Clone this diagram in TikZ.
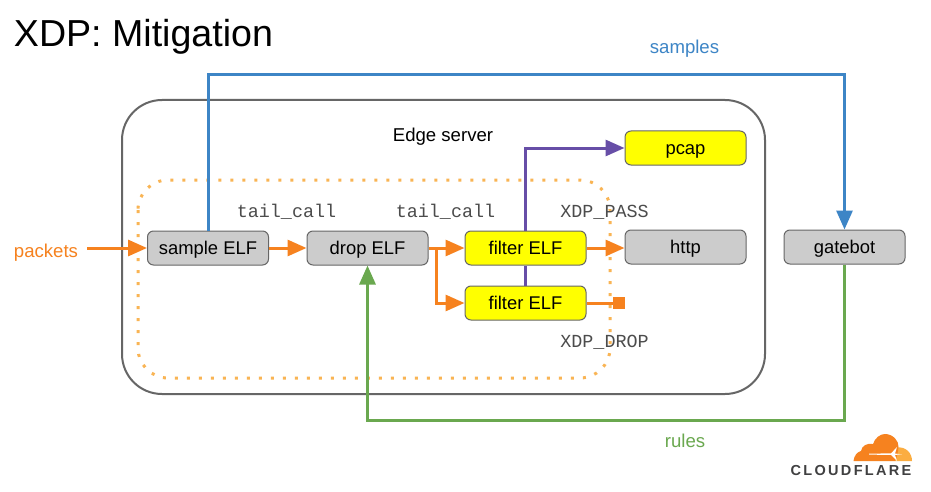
\documentclass[tikz,border=0pt]{standalone}
\usepackage{fontspec}
\setmainfont{Liberation Sans}
\setmonofont{Liberation Mono}
\usetikzlibrary{arrows.meta}
\definecolor{cforange}{HTML}{F6821F}
\definecolor{cflight}{HTML}{FBAD41}
\definecolor{dotorange}{HTML}{F9B454}
\definecolor{lblue}{HTML}{3D85C6}
\definecolor{lpurple}{HTML}{674EA7}
\definecolor{lgreen}{HTML}{6AA84F}
\definecolor{boxyellow}{HTML}{FFFF00}
\definecolor{boxgray}{HTML}{CCCCCC}
\definecolor{edgegray}{HTML}{666666}
\definecolor{logotext}{HTML}{404041}
\tikzset{
  x=1pt,y=-1pt,
  box/.style={draw=edgegray,line width=1pt,rounded corners=6pt,minimum width=121pt,minimum height=34pt,inner sep=0pt,text height=14pt,text depth=2pt,font=\fontsize{18.4}{20}\selectfont,text=black},
  graybox/.style={box,fill=boxgray},
  yellowbox/.style={box,fill=boxyellow},
  lab/.style={font=\fontsize{18.6}{20}\selectfont,inner sep=0pt,anchor=base},
  mono/.style={font=\ttfamily\fontsize{18.4}{20}\selectfont,inner sep=0pt,text=black!70,anchor=base},
  conn/.style={line width=3pt,-{Triangle[length=19pt,width=16pt]}},
  plain/.style={line width=3pt},
}
\begin{document}
\begin{tikzpicture}
\useasboundingbox (0,0) rectangle (931,492);
\fill[white] (0,0) rectangle (931,492);
\node[inner sep=0pt,anchor=base,font=\fontsize{37.6}{40}\selectfont] (title) at (143.5,47) {XDP: Mitigation};
\draw[edgegray,line width=2pt,rounded corners=40pt] (122,100) rectangle (765,394);
\draw[dotorange,line width=3pt,dash pattern=on 3pt off 9pt,rounded corners=30pt] (138,180) rectangle (610,378);
\node[lab] (edge) at (443,141) {Edge server};
\node[graybox] (sample) at (208,248) {sample ELF};
\node[graybox] (drop) at (367.5,248) {drop ELF};
\node[yellowbox] (f1) at (525.5,248) {filter ELF};
\node[yellowbox] (f2) at (525.5,303) {filter ELF};
\node[graybox] (http) at (685.5,247) {http};
\node[yellowbox] (pcap) at (685.5,148) {pcap};
\node[graybox] (gatebot) at (844.5,247) {gatebot};
\node[lab,text=cforange] (packets) at (46,257) {packets};
\node[lab,text=lblue] (samples) at (684.5,54) {samples};
\node[lab,text=lgreen] (rules) at (685,447) {rules};
\node[mono] (t1) at (286.5,217) {tail\_call};
\node[mono] (t2) at (445.5,217) {tail\_call};
\node[mono] (pass) at (604.5,217) {XDP\_PASS};
\node[mono] (dropl) at (604.5,347) {XDP\_DROP};
\node[fill=cforange,minimum size=12pt,inner sep=0pt] (sq) at (619,303) {};
\coordinate (pk) at (87,248);
\coordinate (blue1) at (208,75);
\coordinate (blue2) at (844.5,75);
\coordinate (green1) at (844.5,420);
\coordinate (green2) at (367.5,420);
\coordinate (purple1) at (525.5,148);
\coordinate (split) at (436,248);
\coordinate (split2) at (436,303);
\draw[conn,lblue] (sample.north) -- (blue1) -- (blue2) -- (gatebot.north);
\draw[conn,lgreen] (gatebot.south) -- (green1) -- (green2) -- (drop.south);
\draw[plain,lpurple] (f2.north) -- (f1.south);
\draw[conn,lpurple] (f1.north) -- (purple1) -- (pcap.west);
\draw[conn,cforange] (pk) -- (sample.west);
\draw[conn,cforange] (sample.east) -- (drop.west);
\draw[conn,cforange] (drop.east) -- (f1.west);
\draw[conn,cforange] (split) -- (split2) -- (f2.west);
\draw[conn,cforange] (f1.east) -- (f1.east -| http.west);
\draw[plain,cforange] (f2.east) -- (sq.west);
% logo
\fill[cflight] (895,461) -- (897,447.5) .. controls (906,446.5) and (912,453) .. (912,461) -- cycle;
\fill[cforange] (853.5,461) .. controls (854,456) and (857,452) .. (861,451) .. controls (862,446) and (866,443) .. (873,444) .. controls (875,438) and (880,434) .. (885,434) .. controls (893,434) and (899,441) .. (898.5,447) .. controls (898,452) and (897,457) .. (895,461) -- cycle;
\fill[white] (869,453.6) -- (891,453.4) -- (897,447) -- (895,453.6) -- (902,454.2) -- (895,455) -- (897,461) -- (891,455) -- (869,454.6) -- cycle;
\node[inner sep=0pt,anchor=base,font=\bfseries\fontsize{14.5}{15}\selectfont,text=logotext] (logo) at (851,475.5) {\addfontfeature{LetterSpace=16}CLOUDFLARE};
\end{tikzpicture}
\end{document}
